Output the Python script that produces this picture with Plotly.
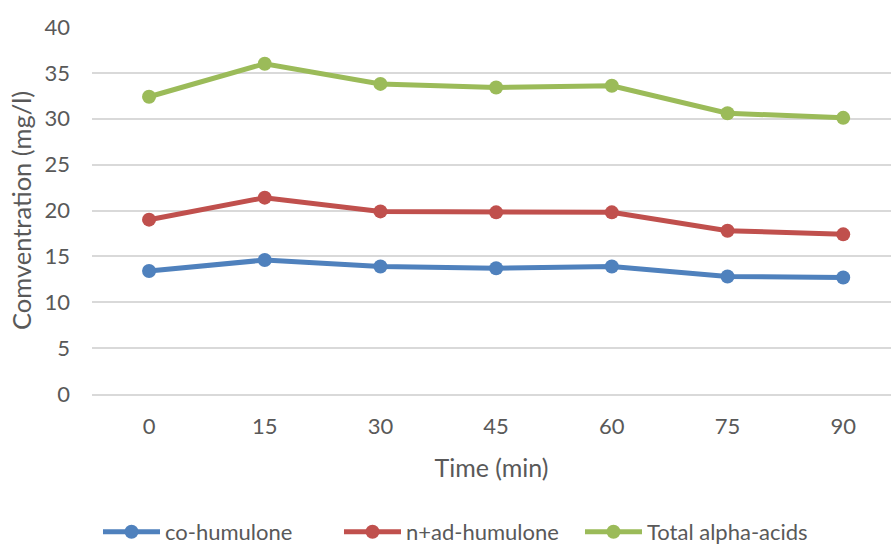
import plotly.graph_objects as go

# Sampling times (min) and alpha-acid concentrations (mg/l)
times = ["0", "15", "30", "45", "60", "75", "90"]
co_humulone = [13.4, 14.6, 13.9, 13.7, 13.9, 12.8, 12.7]
n_ad_humulone = [19.0, 21.4, 19.9, 19.8, 19.8, 17.8, 17.4]
total_alpha_acids = [32.4, 36.0, 33.8, 33.4, 33.6, 30.6, 30.1]

series_names = ["co-humulone", "n+ad-humulone", "Total alpha-acids"]
series_values = [co_humulone, n_ad_humulone, total_alpha_acids]
series_colors = ["#4F81BD", "#C0504D", "#9BBB59"]

FONT = "Lato"
TEXT = "#595959"
GRID = "#D9D9D9"

fig = go.Figure()
for name, vals, col in zip(series_names, series_values, series_colors):
    fig.add_trace(go.Scatter(
        x=times, y=vals, name=name, mode="lines+markers",
        line=dict(color=col, width=5),
        marker=dict(color=col, size=14),
    ))

fig.update_layout(
    width=891, height=544,
    margin=dict(l=92, r=0, t=27, b=150, autoexpand=False),
    paper_bgcolor="white", plot_bgcolor="white",
    font=dict(family=FONT, color=TEXT, size=22),
    showlegend=True,
    legend=dict(
        orientation="h", x=0.0075, xanchor="left", y=-0.376, yanchor="middle",
        font=dict(family=FONT, size=22, color=TEXT),
        itemwidth=57, tracegroupgap=0,
        entrywidth=169, entrywidthmode="pixels",
    ),
)

fig.update_xaxes(
    type="category", range=[-0.493, 6.413], autorange=False,
    showgrid=False, showline=True, linecolor=GRID, linewidth=2,
    ticks="", tickfont=dict(size=22, color=TEXT),
    ticklabelstandoff=12,
    title=dict(text="Time (min)", font=dict(size=25, color=TEXT), standoff=21),
    automargin=False,
)
fig.update_yaxes(
    range=[-0.001, 40.001], autorange=False, dtick=5, tick0=0,
    showgrid=True, gridcolor=GRID, gridwidth=2, zeroline=False,
    ticks="", tickfont=dict(size=22, color=TEXT),
    ticklabelstandoff=21,
    title=dict(text="Comventration (mg/l)", font=dict(size=25.5, color=TEXT), standoff=5),
    automargin=False,
)

fig.write_html("out.html")
